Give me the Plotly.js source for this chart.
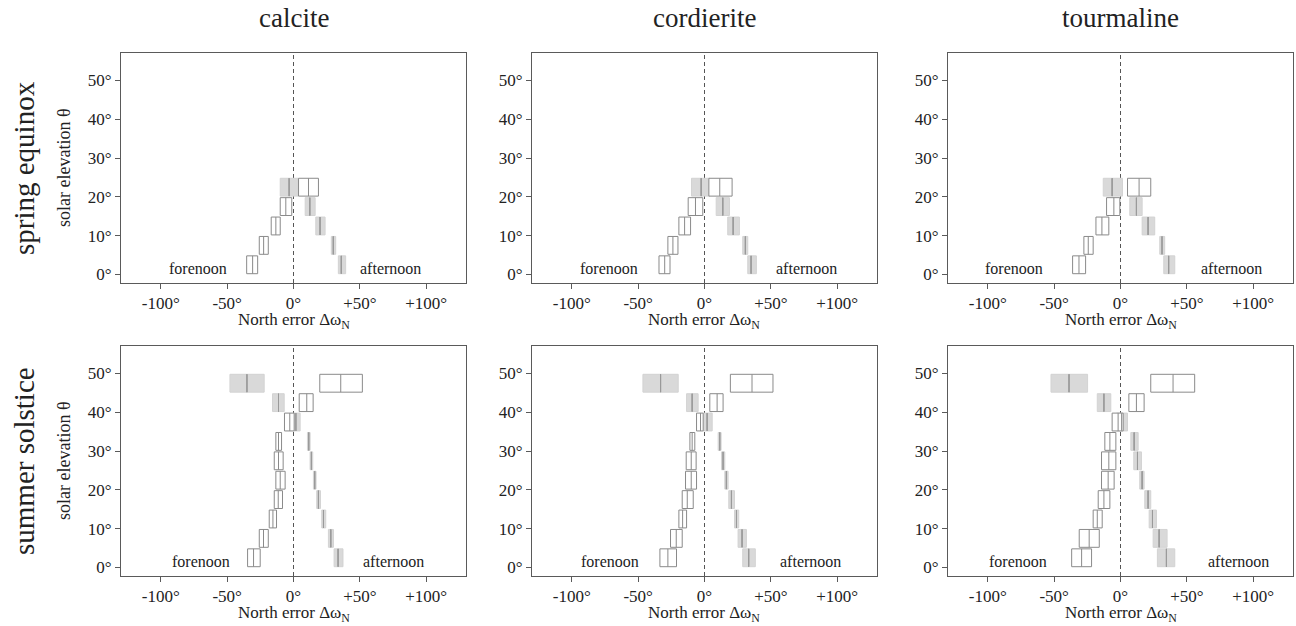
<!DOCTYPE html>
<html>
<head>
<meta charset="utf-8">
<script src="https://cdn.plot.ly/plotly-3.0.1.min.js"></script>
<style>html,body{margin:0;padding:0;background:#fff;}#chart{width:1296px;height:626px;}</style>
</head>
<body>
<div id="chart"></div>
<script>
// ---- categories ----
const minerals = ["calcite", "cordierite", "tourmaline"];
const seasons = ["spring equinox", "summer solstice"];
const elevSpring = [2.5, 7.5, 12.5, 17.5, 22.5];
const elevSummer = [2.5, 7.5, 12.5, 17.5, 22.5, 27.5, 32.5, 37.5, 42.5, 47.5];
const xTickVals = [-100, -50, 0, 50, 100];
const xTickText = ["-100°", "-50°", "0°", "+50°", "+100°"];
const yTickVals = [0, 10, 20, 30, 40, 50];
const yTickText = ["0°", "10°", "20°", "30°", "40°", "50°"];

// ---- spring equinox: open (white) boxes ----
const calSprOpenQ1  = [-35.3, -25.8, -16.8, -10.0, 3.8];
const calSprOpenMed = [-30.8, -22.5, -13.3, -5.8, 11.3];
const calSprOpenQ3  = [-27.0, -19.0, -10.0, -1.3, 18.8];
const corSprOpenQ1  = [-34.3, -27.6, -19.3, -12.3, 3.3];
const corSprOpenMed = [-30.0, -23.8, -15.0, -6.8, 11.5];
const corSprOpenQ3  = [-26.0, -20.0, -10.5, -1.3, 20.8];
const touSprOpenQ1  = [-36.1, -27.6, -18.5, -10.5, 5.3];
const touSprOpenMed = [-31.3, -24.3, -14.0, -5.0, 14.0];
const touSprOpenQ3  = [-26.3, -20.6, -8.8, -0.5, 22.8];
// ---- spring equinox: shaded (grey) boxes ----
const calSprGreyQ1  = [33.8, 28.5, 16.8, 8.8, -10.0];
const calSprGreyMed = [36.0, 30.0, 20.0, 12.3, -3.3];
const calSprGreyQ3  = [39.3, 31.8, 23.8, 16.3, 3.5];
const corSprGreyQ1  = [32.6, 28.8, 17.5, 8.8, -9.8];
const corSprGreyMed = [35.1, 30.8, 21.6, 13.8, -2.5];
const corSprGreyQ3  = [39.1, 32.6, 26.3, 18.8, 3.8];
const touSprGreyQ1  = [32.6, 29.6, 16.3, 7.0, -13.0];
const touSprGreyMed = [36.3, 31.3, 20.8, 12.0, -6.3];
const touSprGreyQ3  = [40.9, 33.3, 25.8, 16.3, 1.5];

// ---- summer solstice: open (white) boxes ----
const calSumOpenQ1  = [-34.6, -25.8, -18.3, -14.5, -13.3, -14.5, -13.3, -6.8, 4.3, 19.8];
const calSumOpenMed = [-30.1, -22.6, -15.5, -11.5, -10.0, -11.3, -11.3, -2.8, 10.0, 35.6];
const calSumOpenQ3  = [-25.1, -19.0, -12.8, -8.3, -6.3, -7.8, -9.0, 0.5, 14.8, 51.9];
const corSumOpenQ1  = [-33.6, -25.6, -19.3, -16.8, -14.3, -13.8, -11.0, -6.0, 4.0, 19.5];
const corSumOpenMed = [-27.6, -21.3, -16.5, -13.0, -10.0, -10.0, -9.3, -3.0, 9.5, 35.8];
const corSumOpenQ3  = [-21.1, -16.8, -13.5, -8.5, -6.0, -6.3, -7.3, -1.0, 14.0, 51.6];
const touSumOpenQ1  = [-36.8, -31.1, -20.6, -16.8, -14.3, -14.3, -11.8, -6.3, 6.3, 22.8];
const touSumOpenMed = [-29.3, -23.6, -17.5, -12.5, -9.3, -8.8, -8.0, -1.8, 12.0, 39.6];
const touSumOpenQ3  = [-21.8, -16.0, -13.8, -8.0, -4.8, -3.5, -3.5, 2.0, 17.8, 55.9];
// ---- summer solstice: shaded (grey) boxes ----
const calSumGreyQ1  = [30.6, 26.3, 21.3, 17.5, 15.0, 12.5, 10.5, 0.0, -15.8, -47.9];
const calSumGreyMed = [33.6, 28.1, 22.6, 18.8, 16.0, 13.5, 11.5, 1.8, -11.3, -35.1];
const calSumGreyQ3  = [37.3, 30.1, 24.3, 20.3, 17.0, 14.5, 12.5, 5.0, -7.0, -22.1];
const corSumGreyQ1  = [28.8, 25.3, 22.6, 18.3, 15.3, 12.8, 10.3, -1.0, -13.5, -46.4];
const corSumGreyMed = [33.3, 28.3, 24.1, 20.3, 16.5, 14.0, 11.5, 2.0, -9.3, -33.1];
const corSumGreyQ3  = [38.3, 31.6, 25.8, 22.6, 17.8, 15.3, 12.5, 5.8, -4.8, -19.8];
const touSumGreyQ1  = [27.8, 24.6, 21.6, 18.3, 14.5, 10.0, 7.8, -3.0, -17.5, -52.4];
const touSumGreyMed = [34.6, 29.1, 24.1, 20.8, 16.3, 12.8, 10.3, 0.8, -12.5, -38.8];
const touSumGreyQ3  = [40.9, 35.1, 27.1, 22.8, 17.8, 15.8, 13.3, 5.3, -7.3, -24.8];

// label positions (x in data units) for forenoon / afternoon
const forenoonX  = [-72, -72, -80, -70, -71, -77];
const afternoonX = [73, 77, 84, 75, 80, 89];

// ---- assemble panels ----
const panels = [
  {elev: elevSpring, o: [calSprOpenQ1, calSprOpenMed, calSprOpenQ3], g: [calSprGreyQ1, calSprGreyMed, calSprGreyQ3]},
  {elev: elevSpring, o: [corSprOpenQ1, corSprOpenMed, corSprOpenQ3], g: [corSprGreyQ1, corSprGreyMed, corSprGreyQ3]},
  {elev: elevSpring, o: [touSprOpenQ1, touSprOpenMed, touSprOpenQ3], g: [touSprGreyQ1, touSprGreyMed, touSprGreyQ3]},
  {elev: elevSummer, o: [calSumOpenQ1, calSumOpenMed, calSumOpenQ3], g: [calSumGreyQ1, calSumGreyMed, calSumGreyQ3]},
  {elev: elevSummer, o: [corSumOpenQ1, corSumOpenMed, corSumOpenQ3], g: [corSumGreyQ1, corSumGreyMed, corSumGreyQ3]},
  {elev: elevSummer, o: [touSumOpenQ1, touSumOpenMed, touSumOpenQ3], g: [touSumGreyQ1, touSumGreyMed, touSumGreyQ3]}
];

const W = 1296, H = 626;
const colPx = [[121, 466], [532, 877], [948, 1293]];
const rowPx = [[53, 283], [346, 576]];
const serif = "'Liberation Serif', 'Times New Roman', serif";
const axisColor = "#5a5a5a";
const boxW = 4.6;

const traces = [];
const layout = {
  width: W, height: H,
  margin: {l: 0, r: 0, t: 0, b: 0},
  paper_bgcolor: "#fff", plot_bgcolor: "#fff",
  showlegend: false,
  boxmode: "overlay",
  font: {family: serif, size: 17, color: "#222"},
  shapes: [], annotations: []
};

function ann(o) {
  return Object.assign({showarrow: false, xanchor: "center", yanchor: "middle"}, o);
}

panels.forEach((p, i) => {
  const r = Math.floor(i / 3), c = i % 3;
  const sfx = i === 0 ? "" : String(i + 1);
  const xa = "x" + sfx, ya = "y" + sfx;

  // grey boxes
  traces.push({
    type: "box", orientation: "h", xaxis: xa, yaxis: ya,
    y: p.elev, q1: p.g[0], median: p.g[1], q3: p.g[2],
    lowerfence: p.g[0], upperfence: p.g[2],
    width: boxW, whiskerwidth: 0, boxpoints: false,
    fillcolor: "#d9d9d9", line: {color: "#d3d3d3", width: 1},
    hoverinfo: "skip"
  });
  // open boxes
  traces.push({
    type: "box", orientation: "h", xaxis: xa, yaxis: ya,
    y: p.elev, q1: p.o[0], median: p.o[1], q3: p.o[2],
    lowerfence: p.o[0], upperfence: p.o[2],
    width: boxW, whiskerwidth: 0, boxpoints: false,
    fillcolor: "#ffffff", line: {color: "#8a8a8a", width: 1},
    hoverinfo: "skip"
  });
  // grey-box medians (darker line)
  traces.push({
    type: "box", orientation: "h", xaxis: xa, yaxis: ya,
    y: p.elev, q1: p.g[1], median: p.g[1], q3: p.g[1],
    lowerfence: p.g[1], upperfence: p.g[1],
    width: boxW, whiskerwidth: 0, boxpoints: false,
    fillcolor: "rgba(0,0,0,0)", line: {color: "#9a9a9a", width: 1},
    hoverinfo: "skip"
  });

  const xdom = [colPx[c][0] / W, colPx[c][1] / W];
  const ydom = [1 - rowPx[r][1] / H, 1 - rowPx[r][0] / H];
  const common = {
    showline: true, mirror: true, linecolor: axisColor, linewidth: 1,
    ticks: "outside", ticklen: 5, tickcolor: axisColor, tickwidth: 1,
    showgrid: false, zeroline: false, fixedrange: true,
    tickfont: {family: serif, size: 17, color: "#222"}
  };
  layout["xaxis" + sfx] = Object.assign({}, common, {
    domain: xdom, anchor: ya, range: [-130, 130],
    tickvals: xTickVals, ticktext: xTickText
  });
  layout["yaxis" + sfx] = Object.assign({}, common, {
    domain: ydom, anchor: xa, range: [-2.2, 57.1],
    tickvals: yTickVals, ticktext: yTickText
  });

  layout.shapes.push({
    type: "line", xref: xa, yref: ya + " domain",
    x0: 0, x1: 0, y0: 0, y1: 1,
    line: {color: "#555", width: 1, dash: "4px,3px"}, layer: "below"
  });

  layout.annotations.push(ann({
    xref: xa, yref: ya, x: forenoonX[i], y: 1.6, text: "forenoon",
    font: {family: serif, size: 16, color: "#222"}
  }));
  layout.annotations.push(ann({
    xref: xa, yref: ya, x: afternoonX[i], y: 1.6, text: "afternoon",
    font: {family: serif, size: 16, color: "#222"}
  }));
  // x-axis title
  layout.annotations.push(ann({
    xref: "paper", yref: "paper",
    x: (xdom[0] + xdom[1]) / 2, y: 1 - (rowPx[r][1] + 38) / H,
    text: "North error Δω<sub>N</sub>",
    font: {family: serif, size: 17, color: "#222"}
  }));
});

// column titles
minerals.forEach((m, c) => {
  layout.annotations.push(ann({
    xref: "paper", yref: "paper",
    x: ((colPx[c][0] + colPx[c][1]) / 2) / W, y: 1 - 18 / H,
    text: m, font: {family: serif, size: 27, color: "#222"}
  }));
});
// row labels and y titles
seasons.forEach((s, r) => {
  const yc = 1 - ((rowPx[r][0] + rowPx[r][1]) / 2) / H;
  layout.annotations.push(ann({
    xref: "paper", yref: "paper", x: 24 / W, y: yc,
    text: s, textangle: -90,
    font: {family: serif, size: 29, color: "#222"}
  }));
  layout.annotations.push(ann({
    xref: "paper", yref: "paper", x: 64 / W, y: yc,
    text: "solar elevation θ", textangle: -90,
    font: {family: serif, size: 18, color: "#222"}
  }));
});

Plotly.newPlot("chart", traces, layout, {displayModeBar: false, staticPlot: true});
</script>
</body>
</html>
